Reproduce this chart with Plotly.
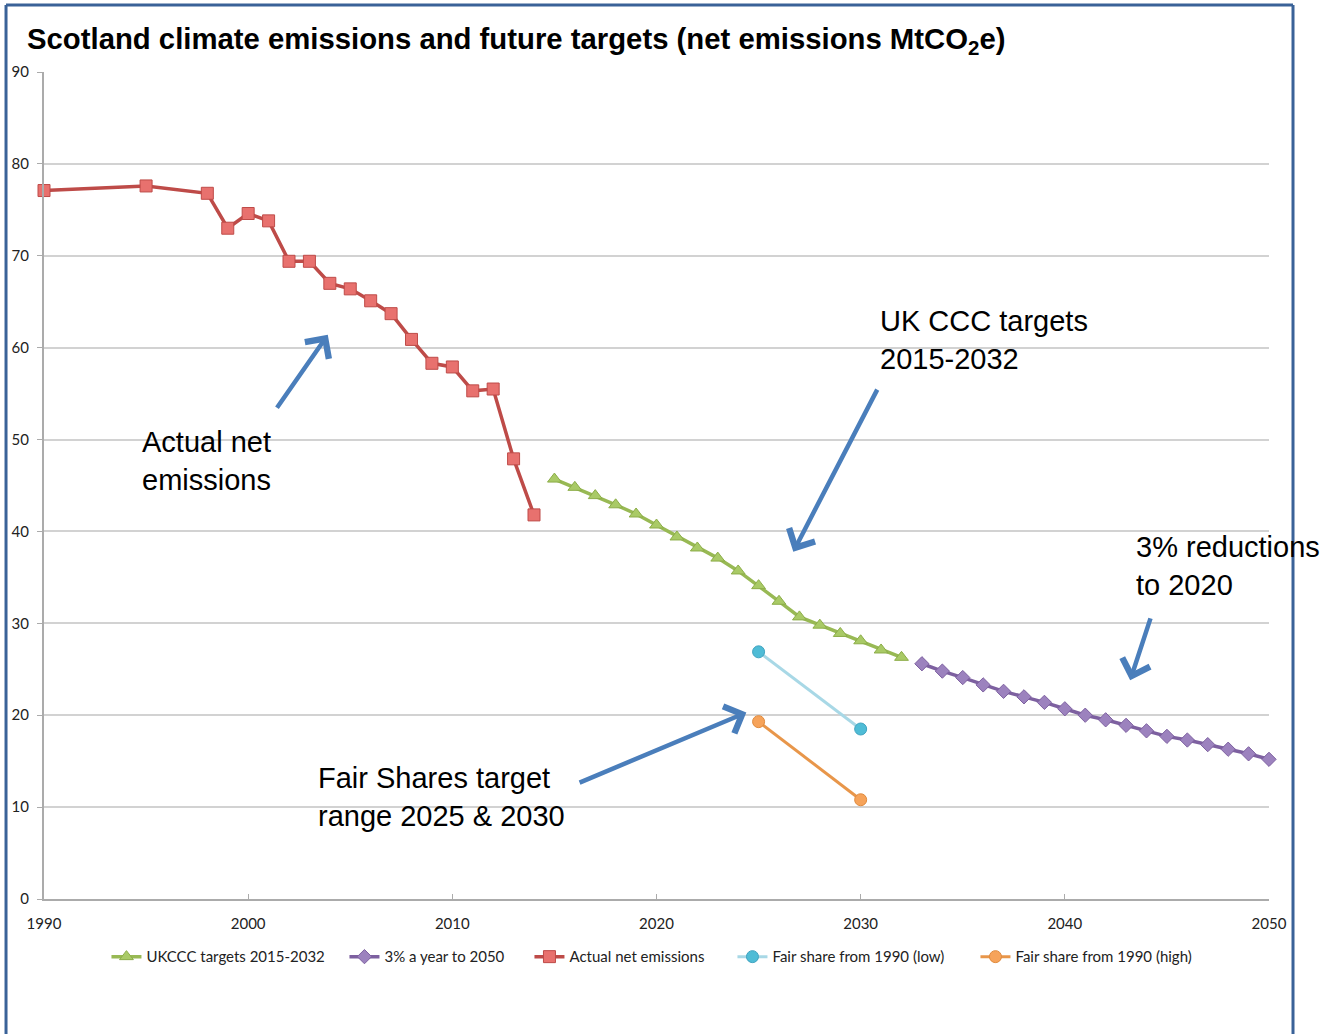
import plotly.graph_objects as go

# ---------------- data ----------------
actual_years = [1990, 1995, 1998, 1999, 2000, 2001, 2002, 2003, 2004, 2005, 2006,
                2007, 2008, 2009, 2010, 2011, 2012, 2013, 2014]
actual_vals = [77.1, 77.6, 76.8, 73.0, 74.6, 73.8, 69.4, 69.4, 67.0, 66.4, 65.1,
               63.7, 60.9, 58.3, 57.9, 55.3, 55.5, 47.9, 41.8]

ukccc_years = list(range(2015, 2033))
ukccc_vals = [45.7, 44.8, 43.9, 42.9, 41.9, 40.7, 39.4, 38.2, 37.1, 35.7, 34.1,
              32.4, 30.7, 29.8, 28.9, 28.1, 27.1, 26.3]

three_years = list(range(2033, 2051))
three_vals = [25.6, 24.8, 24.1, 23.3, 22.6, 22.0, 21.4, 20.7, 20.0, 19.5, 18.9,
              18.3, 17.7, 17.3, 16.8, 16.3, 15.8, 15.2]

fair_years = [2025, 2030]
fair_low_vals = [26.9, 18.5]
fair_high_vals = [19.3, 10.8]

x_ticks = [1990, 2000, 2010, 2020, 2030, 2040, 2050]
y_ticks = [0, 10, 20, 30, 40, 50, 60, 70, 80, 90]

TITLE = "Scotland climate emissions and future targets (net emissions MtCO<sub>2</sub>e)"

# text annotations: (text, x-year, y-value)
notes = [
    ("Actual net<br>emissions", 1994.7, 47.7),
    ("UK CCC targets<br>2015-2032", 2030.85, 60.8),
    ("3% reductions<br>to 2020", 2043.4, 36.2),
    ("Fair Shares target<br>range 2025 &amp; 2030", 2003.3, 11.1),
]
# arrows: (head x, head y, tail x, tail y)
arrows = [
    (2003.9, 61.4, 2001.36, 53.3),
    (2026.7, 37.8, 2030.85, 55.6),
    (2043.2, 23.8, 2044.22, 30.7),
    (2024.4, 20.3, 2016.16, 12.6),
]

TICK_FONT = dict(family="Lato, Open Sans, sans-serif", size=15, color="#222222")
TEXT_FONT = "Liberation Sans, Arial, sans-serif"

fig = go.Figure()

fig.add_trace(go.Scatter(
    x=ukccc_years, y=ukccc_vals, name="UKCCC targets 2015-2032", mode="lines+markers",
    line=dict(color="#98B954", width=3.5), cliponaxis=False, legendwidth=193,
    marker=dict(symbol="triangle-up", size=12, color="#A9CA66",
                line=dict(color="#8CAD48", width=1)),
))
fig.add_trace(go.Scatter(
    x=three_years, y=three_vals, name="3% a year to 2050", mode="lines+markers",
    line=dict(color="#7D60A0", width=3.5), cliponaxis=False, legendwidth=140,
    marker=dict(symbol="diamond", size=11, color="#9C82BE",
                line=dict(color="#7D60A0", width=1)),
))
fig.add_trace(go.Scatter(
    x=actual_years, y=actual_vals, name="Actual net emissions", mode="lines+markers",
    line=dict(color="#BE4B48", width=3.5), cliponaxis=False, legendwidth=158,
    marker=dict(symbol="square", size=12, color="#E8716E",
                line=dict(color="#BE4B48", width=1)),
))
fig.add_trace(go.Scatter(
    x=fair_years, y=fair_low_vals, name="Fair share from 1990 (low)", mode="lines+markers",
    line=dict(color="#A8D8E6", width=3), cliponaxis=False, legendwidth=198,
    marker=dict(symbol="circle", size=12, color="#4FBCD6",
                line=dict(color="#3FA3C0", width=1)),
))
fig.add_trace(go.Scatter(
    x=fair_years, y=fair_high_vals, name="Fair share from 1990 (high)", mode="lines+markers",
    line=dict(color="#E8964A", width=3), cliponaxis=False, legendwidth=190,
    marker=dict(symbol="circle", size=12, color="#F6A35A",
                line=dict(color="#E08A3C", width=1)),
))

annotations = []
for txt, xv, yv in notes:
    annotations.append(dict(
        text=txt, x=xv, y=yv, xref="x", yref="y", xanchor="left", yanchor="middle",
        align="left", showarrow=False,
        font=dict(family=TEXT_FONT, size=29, color="#000000"),
    ))
for hx, hy, tx, ty in arrows:
    annotations.append(dict(
        x=hx, y=hy, ax=tx, ay=ty, xref="x", yref="y", axref="x", ayref="y",
        text="", showarrow=True, arrowhead=4, arrowsize=1.25, arrowwidth=4.5,
        arrowcolor="#4A7EBB", standoff=0,
    ))

BORDER = "#3A6298"
shapes = [
    dict(type="line", xref="paper", yref="paper", x0=-0.031, x1=-0.031, y0=1.081, y1=-0.18,
         line=dict(color=BORDER, width=3)),
    dict(type="line", xref="paper", yref="paper", x0=-0.031, x1=1.0196, y0=1.081, y1=1.081,
         line=dict(color=BORDER, width=3)),
    dict(type="line", xref="paper", yref="paper", x0=1.0196, x1=1.0196, y0=1.081, y1=-0.18,
         line=dict(color=BORDER, width=3)),
]

fig.update_layout(
    width=1337, height=1034,
    margin=dict(l=44, r=68, t=72, b=135, autoexpand=False),
    paper_bgcolor="white", plot_bgcolor="white",
    title=dict(text=TITLE, x=27 / 1337, xanchor="left", xref="container",
               y=1 - 39 / 1034, yanchor="middle", yref="container",
               font=dict(family=TEXT_FONT, size=29.3, color="#000000", weight="bold")),
    showlegend=True,
    legend=dict(orientation="h", x=0.5016, xanchor="center", y=-0.07, yanchor="middle",
                font=dict(family="Lato, Open Sans, sans-serif", size=15, color="#222222"),
                itemwidth=30, bgcolor="rgba(0,0,0,0)"),
    annotations=annotations,
    shapes=shapes,
)

fig.update_xaxes(
    range=[1990, 2050], tickvals=x_ticks, ticktext=[str(v) for v in x_ticks],
    showgrid=False, zeroline=False, automargin=False,
    showline=True, linecolor="#ABABAB", linewidth=2,
    ticks="inside", ticklen=5, tickcolor="#ABABAB", tickwidth=1,
    tickfont=TICK_FONT, ticklabelstandoff=10,
)
fig.update_yaxes(
    range=[0, 90], tickvals=y_ticks, ticktext=[str(v) for v in y_ticks],
    showgrid=True, gridcolor="#D2D2D2", gridwidth=2, zeroline=False, automargin=False,
    showline=True, linecolor="#ABABAB", linewidth=2,
    ticks="outside", ticklen=5, tickcolor="#ABABAB", tickwidth=1,
    tickfont=TICK_FONT, ticklabelstandoff=5,
)

fig.write_html("out.html")
